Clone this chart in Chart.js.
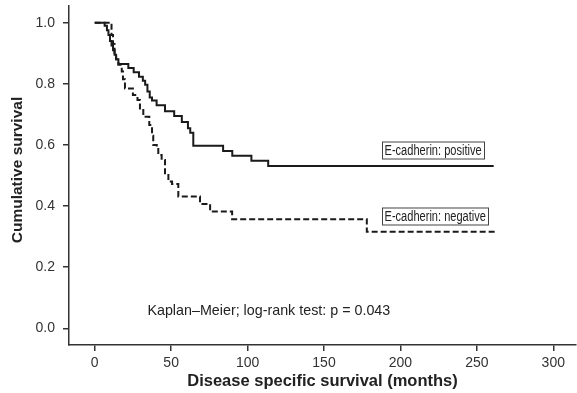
<!DOCTYPE html>
<html>
<head>
<meta charset="utf-8">
<script src="https://cdn.jsdelivr.net/npm/chart.js@4/dist/chart.umd.min.js"></script>
<style>
html,body{margin:0;padding:0;background:#fff;}
#wrap{width:577px;height:393px;position:relative;}
</style>
</head>
<body>
<div id="wrap"><canvas id="c"></canvas></div>
<script>
// ---- data ----
const posTimes = [0, 6.5, 8, 9, 10, 11, 12, 13, 14, 15.5, 22, 25.5, 29, 31.5, 33, 34.5, 36, 37.5, 40.5, 46, 52, 57, 61, 62.5, 64.5, 84, 90, 102.5, 113.5, 261];
const posSurv  = [1.0, 0.99, 0.975, 0.96, 0.94, 0.925, 0.91, 0.895, 0.88, 0.865, 0.852, 0.838, 0.823, 0.81, 0.797, 0.775, 0.755, 0.745, 0.73, 0.71, 0.695, 0.675, 0.655, 0.64, 0.597, 0.58, 0.565, 0.548, 0.531, 0.531];
const negTimes = [0, 11, 12, 13, 14, 15.5, 17.7, 18.5, 19.8, 25, 28, 29.6, 31.8, 35.7, 37.5, 38.3, 40.6, 41.6, 43.8, 46, 48.2, 50.6, 54.7, 68.9, 75.5, 89.9, 178, 263];
const negSurv  = [1.0, 0.96, 0.93, 0.90, 0.88, 0.862, 0.84, 0.815, 0.785, 0.763, 0.747, 0.714, 0.692, 0.665, 0.63, 0.60, 0.59, 0.567, 0.551, 0.507, 0.48, 0.472, 0.431, 0.407, 0.382, 0.357, 0.316, 0.316];
const xTicks = [0, 50, 100, 150, 200, 250, 300];
const yTicks = [0.0, 0.2, 0.4, 0.6, 0.8, 1.0];
const seriesLabels = ['E-cadherin: positive', 'E-cadherin: negative'];
const noteText = 'Kaplan\u2013Meier; log-rank test: p = 0.043';
const xTitle = 'Disease specific survival (months)';
const yTitle = 'Cumulative survival';

// ---- chart ----
const FONT = '"Liberation Sans", Arial, Helvetica, sans-serif';
Chart.defaults.font.family = FONT;

const toPts = (ts, ss) => ts.map((t, i) => ({x: t, y: ss[i]}));

const annot = {
  id: 'annot',
  afterDraw(chart) {
    const {ctx, scales: {x, y}} = chart;
    ctx.save();
    // series label boxes
    const boxes = [
      {text: seriesLabels[0], t: 188, s: 0.583},
      {text: seriesLabels[1], t: 188, s: 0.368}
    ];
    ctx.font = '14px ' + FONT;
    ctx.textBaseline = 'middle';
    ctx.textAlign = 'left';
    boxes.forEach(b => {
      const px = Math.round(x.getPixelForValue(b.t));
      const py = Math.round(y.getPixelForValue(b.s));
      const w = ctx.measureText(b.text).width * 0.79;
      ctx.fillStyle = '#fff';
      ctx.fillRect(px, py - 8.5, w + 5, 17);
      ctx.strokeStyle = '#444';
      ctx.lineWidth = 1;
      ctx.strokeRect(px + 0.5, py - 8.5 + 0.5, Math.round(w + 5), 17);
      ctx.fillStyle = '#222';
      ctx.fillText(b.text, px + 2.5, py + 1, w);
    });
    // note
    ctx.font = '14.3px ' + FONT;
    ctx.fillStyle = '#222';
    ctx.fillText(noteText, x.getPixelForValue(34.5), y.getPixelForValue(0.057));
    // y title
    ctx.font = 'bold 15.5px ' + FONT;
    ctx.textAlign = 'center';
    ctx.translate(18, 170);
    ctx.rotate(-Math.PI / 2);
    ctx.fillText(yTitle, 0, 0);
    ctx.restore();
  }
};

new Chart(document.getElementById('c'), {
  type: 'line',
  data: {
    datasets: [
      {
        label: seriesLabels[0],
        data: toPts(posTimes, posSurv),
        stepped: true,
        borderColor: '#1a1a1a',
        borderWidth: 2,
        pointRadius: 0,
        fill: false
      },
      {
        label: seriesLabels[1],
        data: toPts(negTimes, negSurv),
        stepped: true,
        borderColor: '#1a1a1a',
        borderWidth: 2,
        borderDash: [6, 3],
        pointRadius: 0,
        fill: false
      }
    ]
  },
  options: {
    responsive: true,
    maintainAspectRatio: false,
    animation: false,
    devicePixelRatio: 1,
    layout: {padding: {top: 6, right: 1, left: 0, bottom: 0}},
    plugins: {legend: {display: false}, tooltip: {enabled: false}, title: {display: false}},
    scales: {
      x: {
        type: 'linear',
        min: -16.81,
        max: 314.85,
        afterBuildTicks: s => { s.ticks = xTicks.map(v => ({value: v})); },
        afterFit: s => { s.height = 48; s.paddingLeft = 0; s.paddingRight = 0; },
        ticks: {color: '#333', font: {size: 14}, padding: 4, maxRotation: 0, autoSkip: false},
        grid: {drawOnChartArea: false, drawTicks: true, tickLength: 6, color: '#333', lineWidth: 1.5},
        border: {display: true, color: '#333', width: 1.5},
        title: {display: true, text: xTitle, color: '#222', font: {size: 16.5, weight: 'bold'}, padding: {top: 0, bottom: 2}}
      },
      y: {
        type: 'linear',
        min: -0.0546,
        max: 1.0546,
        afterBuildTicks: s => { s.ticks = yTicks.map(v => ({value: v})); },
        afterFit: s => { s.width = 69; s.paddingTop = 0; s.paddingBottom = 0; },
        ticks: {color: '#333', font: {size: 14}, padding: 8, callback: v => v.toFixed(1)},
        grid: {drawOnChartArea: false, drawTicks: true, tickLength: 6, color: '#333', lineWidth: 1.5},
        border: {display: true, color: '#333', width: 1.5}
      }
    }
  },
  plugins: [annot]
});
</script>
</body>
</html>
